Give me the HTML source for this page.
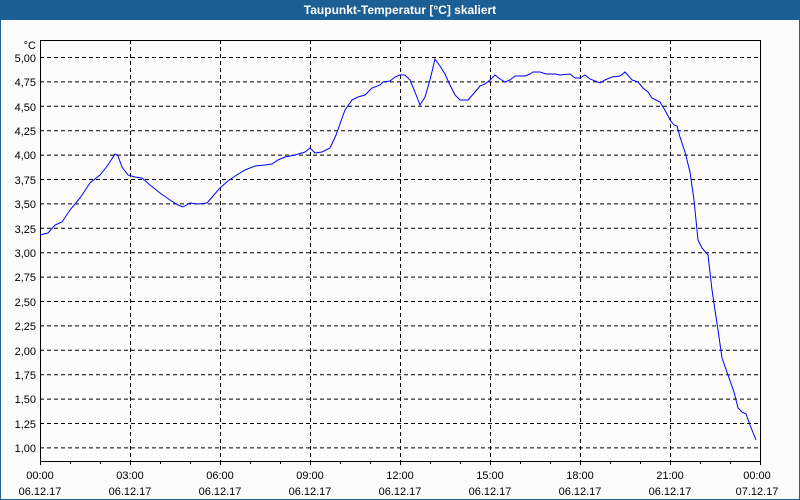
<!DOCTYPE html>
<html><head><meta charset="utf-8"><style>
html,body{margin:0;padding:0;width:800px;height:500px;overflow:hidden;background:#fff}
</style></head><body>
<svg width="800" height="500" xmlns="http://www.w3.org/2000/svg" font-family="Liberation Sans, sans-serif">
<rect x="0" y="0" width="800" height="500" fill="#fcfcfc"/>
<rect x="0.5" y="0.5" width="799" height="499" fill="none" stroke="#1c5f94" stroke-width="1"/>
<rect x="0" y="0" width="800" height="20" fill="#1c5f94"/>
<text x="400" y="14" fill="#fff" font-size="12" font-weight="bold" text-anchor="middle">Taupunkt-Temperatur [°C] skaliert</text>
<g stroke="#000" stroke-width="1" stroke-dasharray="4,3">
<line x1="40" y1="57.5" x2="760" y2="57.5"/><line x1="40" y1="81.9" x2="760" y2="81.9"/><line x1="40" y1="106.3" x2="760" y2="106.3"/><line x1="40" y1="130.7" x2="760" y2="130.7"/><line x1="40" y1="155.1" x2="760" y2="155.1"/><line x1="40" y1="179.5" x2="760" y2="179.5"/><line x1="40" y1="203.9" x2="760" y2="203.9"/><line x1="40" y1="228.3" x2="760" y2="228.3"/><line x1="40" y1="252.7" x2="760" y2="252.7"/><line x1="40" y1="277.1" x2="760" y2="277.1"/><line x1="40" y1="301.5" x2="760" y2="301.5"/><line x1="40" y1="325.9" x2="760" y2="325.9"/><line x1="40" y1="350.3" x2="760" y2="350.3"/><line x1="40" y1="374.7" x2="760" y2="374.7"/><line x1="40" y1="399.1" x2="760" y2="399.1"/><line x1="40" y1="423.5" x2="760" y2="423.5"/><line x1="40" y1="447.9" x2="760" y2="447.9"/>
<line x1="130.5" y1="40" x2="130.5" y2="461"/><line x1="220.5" y1="40" x2="220.5" y2="461"/><line x1="310.5" y1="40" x2="310.5" y2="461"/><line x1="400.5" y1="40" x2="400.5" y2="461"/><line x1="490.5" y1="40" x2="490.5" y2="461"/><line x1="580.5" y1="40" x2="580.5" y2="461"/><line x1="670.5" y1="40" x2="670.5" y2="461"/>
</g>
<rect x="40.5" y="40.5" width="720" height="421" fill="none" stroke="#000"/>
<g stroke="#000"><line x1="40.5" y1="461" x2="40.5" y2="465"/><line x1="70.5" y1="461" x2="70.5" y2="464"/><line x1="100.5" y1="461" x2="100.5" y2="464"/><line x1="130.5" y1="461" x2="130.5" y2="465"/><line x1="160.5" y1="461" x2="160.5" y2="464"/><line x1="190.5" y1="461" x2="190.5" y2="464"/><line x1="220.5" y1="461" x2="220.5" y2="465"/><line x1="250.5" y1="461" x2="250.5" y2="464"/><line x1="280.5" y1="461" x2="280.5" y2="464"/><line x1="310.5" y1="461" x2="310.5" y2="465"/><line x1="340.5" y1="461" x2="340.5" y2="464"/><line x1="370.5" y1="461" x2="370.5" y2="464"/><line x1="400.5" y1="461" x2="400.5" y2="465"/><line x1="430.5" y1="461" x2="430.5" y2="464"/><line x1="460.5" y1="461" x2="460.5" y2="464"/><line x1="490.5" y1="461" x2="490.5" y2="465"/><line x1="520.5" y1="461" x2="520.5" y2="464"/><line x1="550.5" y1="461" x2="550.5" y2="464"/><line x1="580.5" y1="461" x2="580.5" y2="465"/><line x1="610.5" y1="461" x2="610.5" y2="464"/><line x1="640.5" y1="461" x2="640.5" y2="464"/><line x1="670.5" y1="461" x2="670.5" y2="465"/><line x1="700.5" y1="461" x2="700.5" y2="464"/><line x1="730.5" y1="461" x2="730.5" y2="464"/><line x1="760.5" y1="461" x2="760.5" y2="465"/></g>
<g font-size="11" fill="#000" text-anchor="end">
<text x="36" y="49">°C</text>
<text x="36" y="62">5,00</text><text x="36" y="86">4,75</text><text x="36" y="111">4,50</text><text x="36" y="135">4,25</text><text x="36" y="159">4,00</text><text x="36" y="184">3,75</text><text x="36" y="208">3,50</text><text x="36" y="233">3,25</text><text x="36" y="257">3,00</text><text x="36" y="281">2,75</text><text x="36" y="306">2,50</text><text x="36" y="330">2,25</text><text x="36" y="355">2,00</text><text x="36" y="379">1,75</text><text x="36" y="403">1,50</text><text x="36" y="428">1,25</text><text x="36" y="452">1,00</text>
</g>
<g font-size="11" fill="#000" text-anchor="middle">
<text x="40" y="479">00:00</text><text x="40" y="495">06.12.17</text>
<text x="130" y="479">03:00</text><text x="130" y="495">06.12.17</text>
<text x="220" y="479">06:00</text><text x="220" y="495">06.12.17</text>
<text x="310" y="479">09:00</text><text x="310" y="495">06.12.17</text>
<text x="400" y="479">12:00</text><text x="400" y="495">06.12.17</text>
<text x="490" y="479">15:00</text><text x="490" y="495">06.12.17</text>
<text x="580" y="479">18:00</text><text x="580" y="495">06.12.17</text>
<text x="670" y="479">21:00</text><text x="670" y="495">06.12.17</text>
<text x="757" y="479">00:00</text><text x="757" y="495">07.12.17</text>
</g>
<polyline fill="none" stroke="#0000ff" stroke-width="1" points="40,235 48,233 55,225 62,222 70,210 80,198 90,183 100,175 108,165 115,154 118,156 122,167 128,175 135,177 142,178 150,185 160,193 170,200 178,205 183,207 190,203 198,204 207,203 213,196 220,188 228,181 235,176 245,170 255,166 265,165 272,164 278,160 285,157 295,155 305,152 310,148 315,153 322,152 330,148 336,135 345,110 352,100 358,97 365,95 372,88 380,85 383,82 390,81 395,77 400,75 405,75 410,80 415,92 420,105 425,97 430,80 435,59 440,66 445,74 450,85 455,95 460,100 468,100 475,92 480,86 485,84 490,80 495,75 500,79 505,82 510,80 515,76 525,76 530,74 533,72 540,72 546,74 555,74 560,75 570,74 575,78 580,78 585,75 590,79 600,83 605,80 612,77 620,76 625,72 632,80 638,82 643,88 648,92 652,98 660,102 666,112 670,120 674,125 677,126 680,137 685,152 690,172 694,200 698,240 702,248 708,255 712,290 718,330 722,358 728,375 734,392 738,408 742,412 746,414 750,425 756,440"/>
</svg>
</body></html>
